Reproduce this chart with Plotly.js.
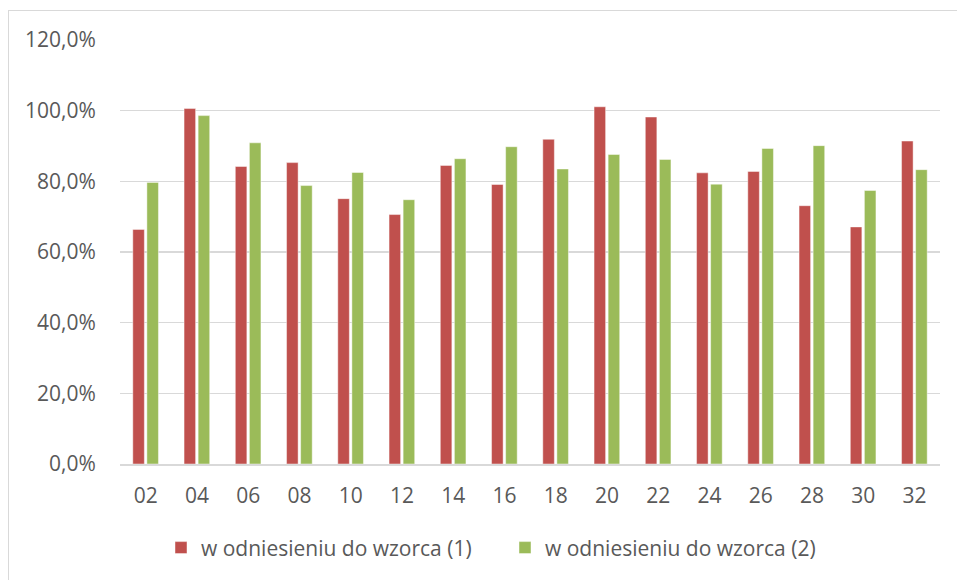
<!DOCTYPE html>
<html>
<head>
<meta charset="utf-8">
<script src="https://cdn.plot.ly/plotly-3.0.1.min.js"></script>
<style>
  html, body { margin: 0; padding: 0; background: #fff; overflow: hidden; }
  #wrap { position: relative; width: 957px; height: 580px; }
  #chart { width: 957px; height: 580px; }
  #frame { position: absolute; left: 8px; top: 10px; width: 1000px; height: 700px;
           border-left: 1px solid #d9d9d9; border-top: 1px solid #d9d9d9; pointer-events: none; }
</style>
</head>
<body>
<div id="wrap">
  <div id="chart"></div>
  <div id="frame"></div>
</div>
<script>
const categories = ["02","04","06","08","10","12","14","16","18","20","22","24","26","28","30","32"];
const series1Name = "w odniesieniu do wzorca (1)";
const series2Name = "w odniesieniu do wzorca (2)";
const series1 = [66.4,100.6,84.2,85.3,75.1,70.6,84.5,79.1,91.9,101.1,98.2,82.4,82.8,73.1,67.1,91.4];
const series2 = [79.7,98.6,90.9,78.8,82.5,74.8,86.4,89.8,83.5,87.6,86.2,79.2,89.3,90.1,77.4,83.3];
const yTicks = [0,20,40,60,80,100,120];
const yTickLabels = ["0,0%","20,0%","40,0%","60,0%","80,0%","100,0%","120,0%"];

const fontFam = "'Open Sans', 'Noto Sans', sans-serif";
const txtColor = "#595959";
const traces = [
  { type: "bar", name: series1Name, x: categories, y: series1,
    marker: { color: "#C0504D", line: { color: "rgba(255,255,255,0.45)", width: 1 } } },
  { type: "bar", name: series2Name, x: categories, y: series2,
    marker: { color: "#9BBB59", line: { color: "rgba(255,255,255,0.45)", width: 1 } } }
];

const layout = {
  width: 957, height: 580,
  margin: { l: 120, r: 17, t: 40, b: 116, pad: 0 },
  paper_bgcolor: "#ffffff", plot_bgcolor: "#ffffff",
  barmode: "group", bargap: 0.45, bargroupgap: 0.18,
  font: { family: fontFam, size: 21, color: txtColor },
  showlegend: true,
  legend: { orientation: "h", x: 0.050, xanchor: "left", y: -0.198, yanchor: "middle",
            font: { family: fontFam, size: 21, color: txtColor }, itemwidth: 30,
            entrywidth: 299, entrywidthmode: "pixels", traceorder: "normal" },
  xaxis: { type: "category", showgrid: false, showline: true, linecolor: "#d9d9d9", linewidth: 1.5,
           ticks: "outside", ticklen: 12, tickcolor: "rgba(0,0,0,0)",
           tickfont: { family: fontFam, size: 21, color: txtColor }, fixedrange: true },
  yaxis: { range: [0, 120], tickmode: "array", tickvals: yTicks, ticktext: yTickLabels,
           showgrid: true, gridcolor: "#d9d9d9", gridwidth: 1.5, zeroline: false, showline: false,
           ticks: "outside", ticklen: 19, tickcolor: "rgba(0,0,0,0)",
           tickfont: { family: fontFam, size: 21, color: txtColor }, fixedrange: true }
};

Plotly.newPlot("chart", traces, layout, { displayModeBar: false, staticPlot: true });
</script>
</body>
</html>
